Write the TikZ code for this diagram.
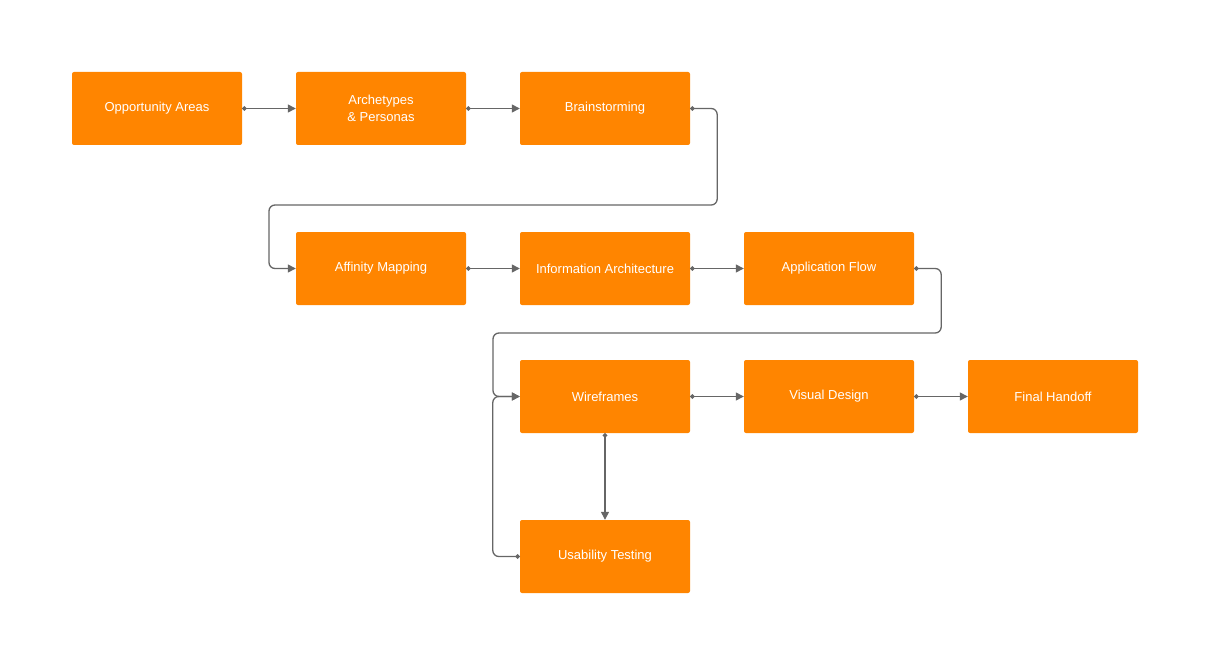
\documentclass[tikz,border=0pt]{standalone}
\usepackage{fontspec}
\setmainfont{Liberation Sans}
\usetikzlibrary{arrows.meta}
\definecolor{org}{HTML}{FF8500}
\definecolor{ln}{HTML}{666666}
\begin{document}
\begin{tikzpicture}[x=1pt,y=-1pt,
 box/.style={fill=org,rounded corners=2pt,minimum width=170pt,minimum height=73pt,inner sep=0pt,text=white,font=\fontsize{13}{17}\selectfont,align=center},
 con/.style={draw=ln,line width=1.3pt,rounded corners=6pt,{Circle[length=4.5pt]}-{Triangle[length=8pt,width=8pt]}}]
\useasboundingbox (0,0) rectangle (1210,666);
\node[box] (a) at (157,108.5) {Opportunity Areas};
\node[box] (b) at (381,108.5) {Archetypes\\\& Personas};
\node[box] (c) at (605,108.5) {Brainstorming};
\node[box] (d) at (381,268.5) {Affinity Mapping};
\node[box] (e) at (605,268.5) {Information Architecture};
\node[box] (f) at (829,268.5) {Application Flow};
\node[box] (g) at (605,396.5) {Wireframes};
\node[box] (h) at (829,396.5) {Visual Design};
\node[box] (i) at (1053,396.5) {Final Handoff};
\node[box] (j) at (605,556.5) {Usability Testing};
\draw[con] (a.east) -- (b.west);
\draw[con] (b.east) -- (c.west);
\draw[con] (c.east) -- ++(27,0) |- (493,205) -- (269,205) |- (d.west);
\draw[con] (d.east) -- (e.west);
\draw[con] (e.east) -- (f.west);
\draw[con] (f.east) -- ++(27,0) |- (700,333) -- (493,333) |- (g.west);
\draw[con] (g.east) -- (h.west);
\draw[con] (h.east) -- (i.west);
\draw[con] (g.south) -- (j.north);
\draw[con] (j.west) -- ++(-27,0) |- (g.west);
\end{tikzpicture}
\end{document}
